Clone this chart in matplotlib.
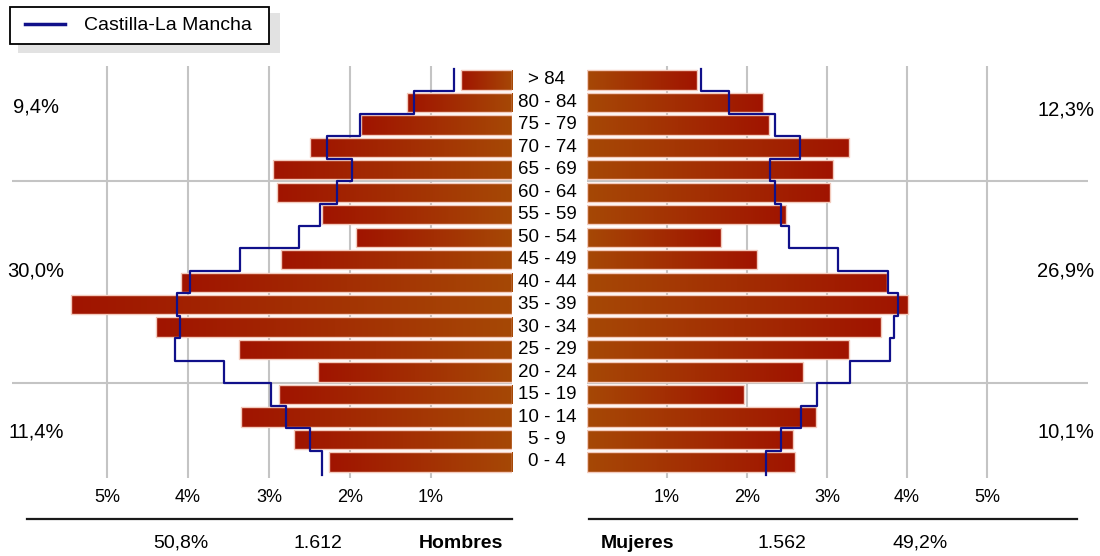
import numpy as np
import matplotlib
matplotlib.use('Agg')
import matplotlib.pyplot as plt
from matplotlib.colors import to_rgb
from matplotlib.lines import Line2D
from matplotlib.patches import Rectangle
from matplotlib.legend_handler import HandlerLine2D
from matplotlib.transforms import blended_transform_factory

#data (% of total population), from 0-4 up to >84
ages = ['0 - 4', '5 - 9', '10 - 14', '15 - 19', '20 - 24', '25 - 29', '30 - 34',
        '35 - 39', '40 - 44', '45 - 49', '50 - 54', '55 - 59', '60 - 64',
        '65 - 69', '70 - 74', '75 - 79', '80 - 84', '> 84']
hombres = [2.26, 2.69, 3.34, 2.88, 2.39, 3.37, 4.40, 5.44, 4.09, 2.85, 1.92,
           2.34, 2.90, 2.95, 2.49, 1.86, 1.30, 0.63]
hombres_clm = [2.35, 2.50, 2.79, 2.97, 3.56, 4.16, 4.10, 4.13, 3.97, 3.36, 2.63,
               2.37, 2.16, 1.98, 2.29, 1.88, 1.21, 0.71]
mujeres = [2.60, 2.57, 2.86, 1.96, 2.70, 3.28, 3.67, 4.01, 3.75, 2.12, 1.68,
           2.49, 3.04, 3.07, 3.28, 2.28, 2.20, 1.38]
mujeres_clm = [2.24, 2.42, 2.68, 2.87, 3.29, 3.79, 3.84, 3.89, 3.76, 3.14, 2.53,
               2.42, 2.35, 2.29, 2.66, 2.35, 1.77, 1.43]
ticks = [1, 2, 3, 4, 5]
tick_labels = ['1%', '2%', '3%', '4%', '5%']
left_groups = ['9,4%', '30,0%', '11,4%']
right_groups = ['12,3%', '26,9%', '10,1%']
totales_h = ['50,8%', '1.612', 'Hombres']
totales_m = ['Mujeres', '1.562', '49,2%']

W, H = 1100, 556
plt.rcParams['font.family'] = ['Liberation Sans', 'DejaVu Sans']
fs = 13.5

fig = plt.figure(figsize=(W / 100, H / 100), dpi=100)

def px_axes(x0, x1, ytop, ybot):
    return fig.add_axes([x0 / W, 1 - ybot / H, (x1 - x0) / W, (ybot - ytop) / H])

ax_l = px_axes(12, 512, 66, 478)
ax_r = px_axes(587, 1088, 66, 478)

rows = np.arange(len(ages))
grid_c = '#c4c4c4'
inner = np.array(to_rgb('#a64806'))
outer = np.array(to_rgb('#a01400'))
t = np.linspace(0, 1, 64)[None, :, None]
grad = inner * (1 - t) + outer * t

for ax, vals, clm in [(ax_l, hombres, hombres_clm), (ax_r, mujeres, mujeres_clm)]:
    for g in ticks:
        ax.axvline(g, color=grid_c, lw=1.5, zorder=0)
    for h in [3.5, 12.5]:
        ax.axhline(h, color=grid_c, lw=1.5, zorder=0)
    bars = ax.barh(rows, vals, height=0.86, color='none', edgecolor='#f3cbbd',
                   lw=1, zorder=3)
    for b, v in zip(bars, vals):
        im = ax.imshow(grad, extent=[0, v, b.get_y(), b.get_y() + b.get_height()],
                       aspect='auto', interpolation='bilinear', zorder=2)
        im.set_clip_path(b)
    # step line for Castilla-La Mancha
    xs = np.repeat(clm, 2)
    ys = np.column_stack([rows - 0.5, rows + 0.5]).ravel()
    ys[0] = -0.58
    ax.plot(xs, ys, color='#10108a', lw=1.6, zorder=4)
    ax.set_ylim(-0.712, 17.62)
    ax.set_xticks(ticks, tick_labels, fontsize=13)
    ax.set_yticks([])
    ax.tick_params(axis='x', length=0, pad=8)
    for s in ax.spines.values():
        s.set_visible(False)

ax_l.set_xlim(500 / 81, 0)
ax_r.set_xlim(0, 501 / 80)

# age labels in the middle
tr = blended_transform_factory(fig.transFigure, ax_r.transData)
for r, a in zip(rows, ages):
    fig.text(547 / W, r, a, transform=tr, ha='center', va='center', fontsize=fs)

# group percentages on the sides
for y, tl in zip([107, 271, 432], left_groups):
    fig.text(36 / W, 1 - y / H, tl, ha='center', va='center', fontsize=14.5)
for y, tr_ in zip([110, 271, 432], right_groups):
    fig.text(1066 / W, 1 - y / H, tr_, ha='center', va='center', fontsize=14.5)

# bottom rules and totals
fig.add_artist(Line2D([27 / W, 512 / W], [1 - 519 / H] * 2, color='#1a1a1a', lw=1.6))
fig.add_artist(Line2D([589 / W, 1077 / W], [1 - 519 / H] * 2, color='#1a1a1a', lw=1.6))
for x, s in zip([181, 318, 461], totales_h):
    fig.text(x / W, 1 - 543 / H, s, ha='center', va='center',
             fontsize=14, weight='bold' if s == 'Hombres' else 'normal')
for x, s in zip([637, 782, 920], totales_m):
    fig.text(x / W, 1 - 543 / H, s, ha='center', va='center',
             fontsize=14, weight='bold' if s == 'Mujeres' else 'normal')

# legend with a flat grey shadow
fig.add_artist(Rectangle((18 / W, 1 - 53 / H), 262 / W, 40 / H, transform=fig.transFigure,
                         facecolor='#e2e2e2', edgecolor='none', zorder=0))
handle = Line2D([], [], color='#10108a', lw=2.5)
leg = fig.legend([handle], ['Castilla-La Mancha'], loc='upper left',
                 bbox_to_anchor=(10 / W, 1 - 43 / H, 259 / W, 36 / H), mode='expand',
                 fancybox=False, fontsize=14, handlelength=2.35, handletextpad=0.95,
                 borderpad=0.5, borderaxespad=0,
                 handler_map={handle: HandlerLine2D(xpad=0.25)})
leg.get_frame().set_edgecolor('black')
leg.get_frame().set_linewidth(1.3)
leg.get_frame().set_alpha(1)

fig.savefig('out.png', dpi=100)
